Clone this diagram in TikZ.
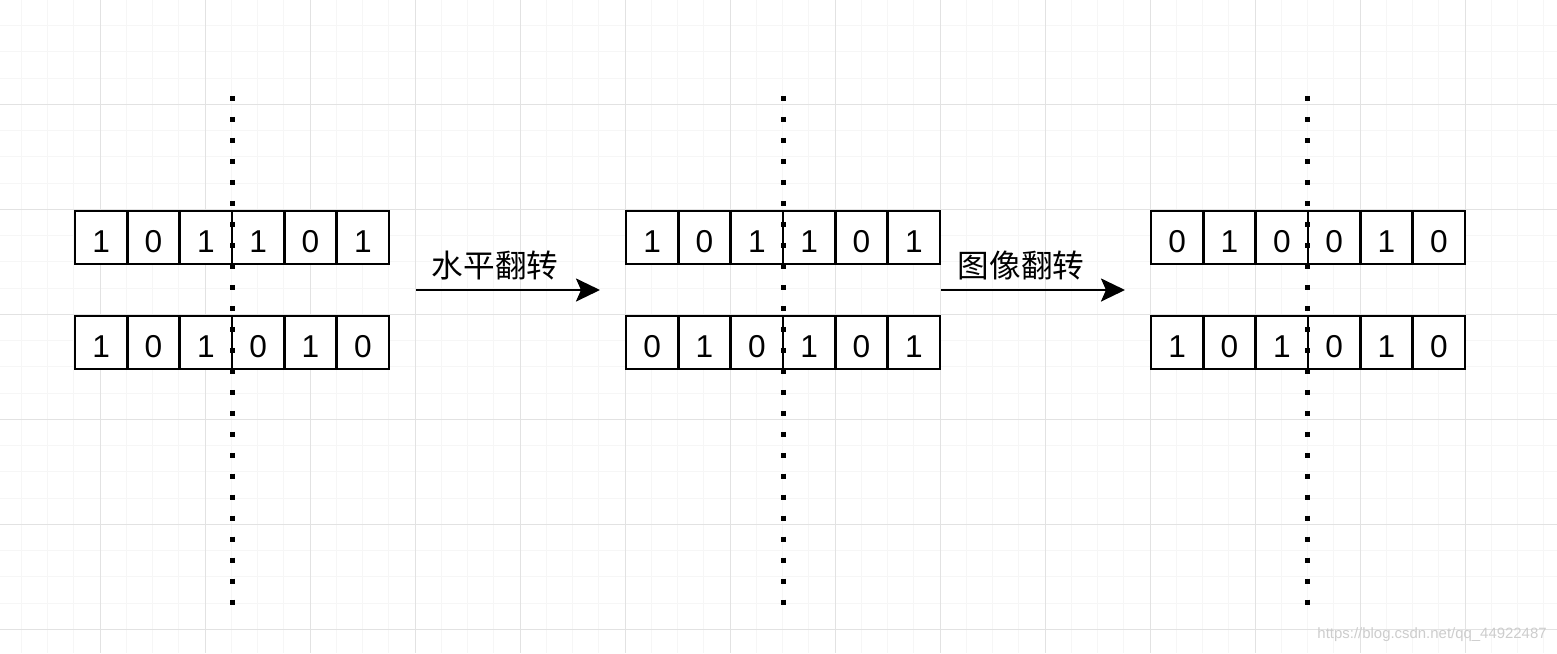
\documentclass[tikz,border=0pt]{standalone}
\usepackage{fontspec}
\setmainfont{Liberation Sans}
\newfontfamily\cjkfont{Noto Sans CJK SC}
\definecolor{gridminor}{RGB}{246,246,246}
\definecolor{gridmajor}{RGB}{226,226,226}
\definecolor{markgray}{RGB}{205,205,205}
\usetikzlibrary{arrows.meta, positioning}

\begin{document}
\begin{tikzpicture}[
      x=0.02cm, y=-0.02cm,
      cell/.style={rectangle, draw=black, line width=1.45pt, fill=white,
                   minimum width=1.047cm, minimum height=1.06cm,
                   text height=0.58cm, text depth=0pt,
                   inner sep=0pt, outer sep=0pt, font=\fontsize{18}{20}\selectfont},
      axis/.style={line width=0.1cm, dash pattern=on 0.1cm off 0.32cm},
      arr/.style={-{Stealth[length=0.48cm, width=0.46cm, inset=0.1cm]}, line width=1.45pt},
      lbl/.style={font=\cjkfont\fontsize{18}{20}\selectfont, inner sep=0pt}
    ]
      % Page and background grid
      \useasboundingbox (0,0) rectangle (1557,653);
      \fill[white] (0,0) rectangle (1557,653);
      \foreach \k in {0,...,60} {
        \draw[gridminor, line width=0.5pt] ({-5+26.25*\k},0) -- ({-5+26.25*\k},653);
        \draw[gridminor, line width=0.5pt] (0,{-0.7+26.25*\k}) -- (1557,{-0.7+26.25*\k});
      }
      \foreach \k in {0,...,15} {
        \draw[gridmajor, line width=0.5pt] ({-5+105*\k},0) -- ({-5+105*\k},653);
        \draw[gridmajor, line width=0.5pt] (0,{-0.7+105*\k}) -- (1557,{-0.7+105*\k});
      }

      % Original rows
      \foreach \d [count=\i] in {1,0,1,1,0,1}
        \node[cell] (orgtop\i) at ({75+52.33*(\i-0.5)},237.5) {\d};
      \foreach \d [count=\i] in {1,0,1,0,1,0}
        \node[cell] (orgbot\i) at ({75+52.33*(\i-0.5)},342.5) {\d};

      % After horizontal flip
      \foreach \d [count=\i] in {1,0,1,1,0,1}
        \node[cell] (hortop\i) at ({626+52.33*(\i-0.5)},237.5) {\d};
      \foreach \d [count=\i] in {0,1,0,1,0,1}
        \node[cell] (horbot\i) at ({626+52.33*(\i-0.5)},342.5) {\d};

      % After image flip
      \foreach \d [count=\i] in {0,1,0,0,1,0}
        \node[cell] (imgtop\i) at ({1151+52.33*(\i-0.5)},237.5) {\d};
      \foreach \d [count=\i] in {1,0,1,0,1,0}
        \node[cell] (imgbot\i) at ({1151+52.33*(\i-0.5)},342.5) {\d};

      % Symmetry axes
      \coordinate (orgaxisA) at (232,95.8);   \coordinate (orgaxisB) at (232,605);
      \coordinate (horaxisA) at (783,95.8);   \coordinate (horaxisB) at (783,605);
      \coordinate (imgaxisA) at (1307.5,95.8); \coordinate (imgaxisB) at (1307.5,605);
      \draw[axis] (orgaxisA) -- (orgaxisB);
      \draw[axis] (horaxisA) -- (horaxisB);
      \draw[axis] (imgaxisA) -- (imgaxisB);

      % Arrows
      \coordinate (horstart) at (416,290);  \coordinate (horend) at (600,290);
      \coordinate (imgstart) at (941,290);  \coordinate (imgend) at (1125,290);
      \draw[arr] (horstart) -- (horend);
      \draw[arr] (imgstart) -- (imgend);
      \node[lbl] (horlabel) at (495,265) {水平翻转};
      \node[lbl] (imglabel) at (1021,265) {图像翻转};

      % Watermark
      \node[font=\fontsize{8.5}{10}\selectfont, text=markgray, anchor=east, inner sep=0pt]
        (mark) at (1547,635) {https://blog.csdn.net/qq\_44922487};

    \end{tikzpicture}
\end{document}
